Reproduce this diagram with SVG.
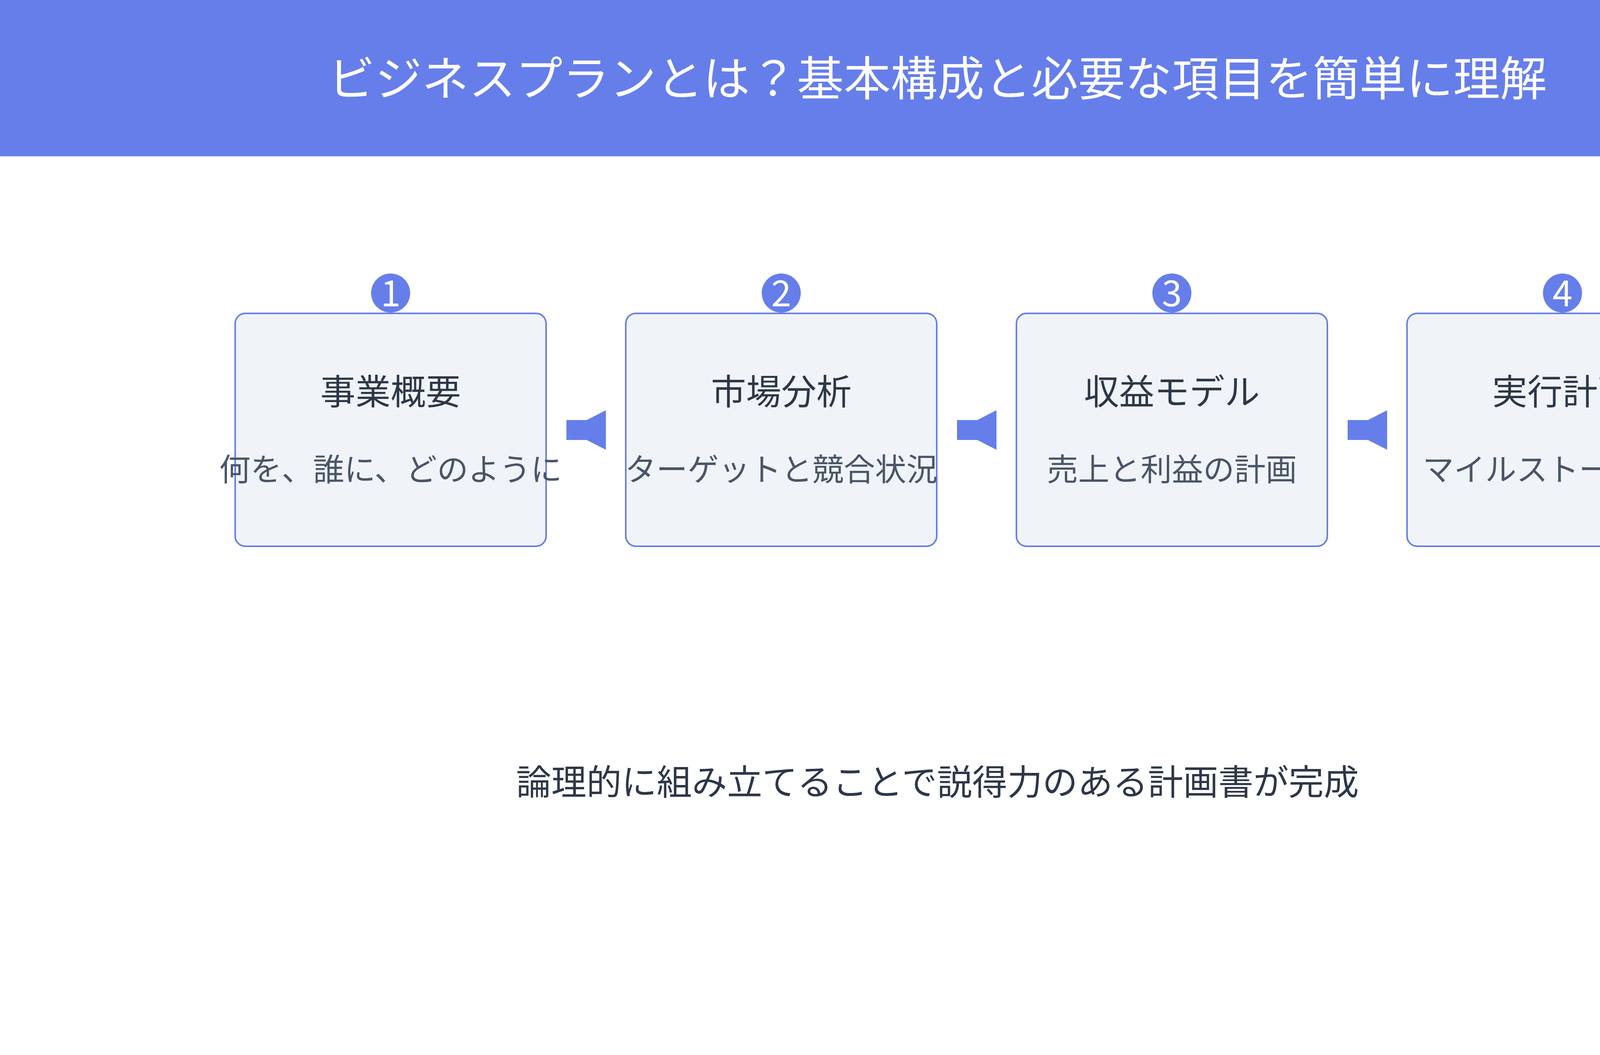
<svg xmlns="http://www.w3.org/2000/svg" width="4800" height="2700" viewBox="0 0 4800 2700">
  <style>
    text { font-family: "Noto Sans CJK JP", "Noto Sans", sans-serif; text-anchor: middle; }
    .title { font-size: 120px; fill: #ffffff; }
    .box { fill: #f0f4f8; stroke: #667eea; stroke-width: 4; }
    .badge { fill: #667eea; }
    .num { font-size: 92px; fill: #ffffff; }
    .head { font-size: 90px; fill: #2d3748; }
    .sub { font-size: 80px; fill: #4a5568; }
    .foot { font-size: 90px; fill: #2d3748; }
    .conn { fill: #667eea; }
  </style>
  <rect x="0" y="0" width="4800" height="2700" fill="#ffffff"/>
  <g id="header">
    <rect x="0" y="0" width="4800" height="400" fill="#667eea"/>
    <text class="title" x="2400" y="245">ビジネスプランとは？基本構成と必要な項目を簡単に理解</text>
  </g>
  <g id="connectors">
    <polygon class="conn" points="1450,1075 1502,1075 1551,1050 1551,1151 1502,1126 1450,1126"/>
    <polygon class="conn" points="2450,1075 2502,1075 2551,1050 2551,1151 2502,1126 2450,1126"/>
    <polygon class="conn" points="3450,1075 3502,1075 3551,1050 3551,1151 3502,1126 3450,1126"/>
  </g>
  <g id="node1">
    <rect class="box" x="602" y="802" width="796" height="596" rx="26"/>
    <circle class="badge" cx="1000" cy="750" r="50"/>
    <text class="num" x="1000" y="784">1</text>
    <text class="head" x="1000" y="1035">事業概要</text>
    <text class="sub" x="1000" y="1230">何を、誰に、どのように</text>
  </g>
  <g id="node2">
    <rect class="box" x="1602" y="802" width="796" height="596" rx="26"/>
    <circle class="badge" cx="2000" cy="750" r="50"/>
    <text class="num" x="2000" y="784">2</text>
    <text class="head" x="2000" y="1035">市場分析</text>
    <text class="sub" x="2000" y="1230">ターゲットと競合状況</text>
  </g>
  <g id="node3">
    <rect class="box" x="2602" y="802" width="796" height="596" rx="26"/>
    <circle class="badge" cx="3000" cy="750" r="50"/>
    <text class="num" x="3000" y="784">3</text>
    <text class="head" x="3000" y="1035">収益モデル</text>
    <text class="sub" x="3000" y="1230">売上と利益の計画</text>
  </g>
  <g id="node4">
    <rect class="box" x="3602" y="802" width="796" height="596" rx="26"/>
    <circle class="badge" cx="4000" cy="750" r="50"/>
    <text class="num" x="4000" y="784">4</text>
    <text class="head" x="4000" y="1035">実行計画</text>
    <text class="sub" x="4000" y="1230">マイルストーン設定</text>
  </g>
  <g id="footer">
    <text class="foot" x="2400" y="2034">論理的に組み立てることで説得力のある計画書が完成</text>
  </g>
</svg>
